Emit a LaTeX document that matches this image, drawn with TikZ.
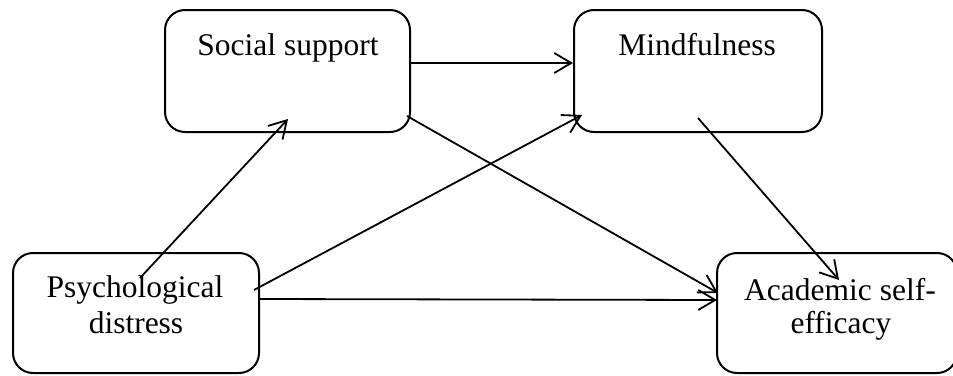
\documentclass[tikz,border=0pt]{standalone}
\usepackage{fontspec}
\setmainfont{Liberation Serif}
\usetikzlibrary{arrows.meta}
\begin{document}
\begin{tikzpicture}[x=1pt,y=-1pt,
  box/.style={draw=black,line width=2pt,rounded corners=20pt,rectangle,inner sep=0pt},
  lbl/.style={anchor=base,inner sep=0pt,font=\fontsize{31.5}{36}\selectfont},
  arr/.style={line width=1.8pt,-{Straight Barb[length=17pt,width=20pt,line width=1.8pt]}}]
\useasboundingbox (0,0) rectangle (953,375);
\node[box,minimum width=245pt,minimum height=122pt] (ss) at (287.5,71) {};
\node[box,minimum width=248pt,minimum height=122pt] (mf) at (698,71) {};
\node[box,minimum width=246pt,minimum height=120pt] (pd) at (136,313) {};
\node[box,minimum width=240pt,minimum height=120pt] (ase) at (837,313) {};
\node[lbl] (tss) at (288,55) {Social support};
\node[lbl] (tmf) at (697,55) {Mindfulness};
\node[lbl] (tpd1) at (135,297) {Psychological};
\node[lbl] (tpd2) at (136,333) {distress};
\node[lbl] (tase1) at (840,300) {Academic self-};
\node[lbl] (tase2) at (841,333) {efficacy};
\coordinate (a1s) at (410,63); \coordinate (a1e) at (573,63);
\coordinate (a2s) at (140,278); \coordinate (a2e) at (288,119);
\coordinate (a3s) at (254,290); \coordinate (a3e) at (582,115);
\coordinate (a4s) at (407,116); \coordinate (a4e) at (718,293);
\coordinate (a5s) at (259,299); \coordinate (a5e) at (717,300);
\coordinate (a6s) at (698,118); \coordinate (a6e) at (839,280);
\draw[arr] (a1s) -- (a1e);
\draw[arr] (a2s) -- (a2e);
\draw[arr] (a3s) -- (a3e);
\draw[arr] (a4s) -- (a4e);
\draw[arr] (a5s) -- (a5e);
\draw[arr] (a6s) -- (a6e);
\end{tikzpicture}
\end{document}
